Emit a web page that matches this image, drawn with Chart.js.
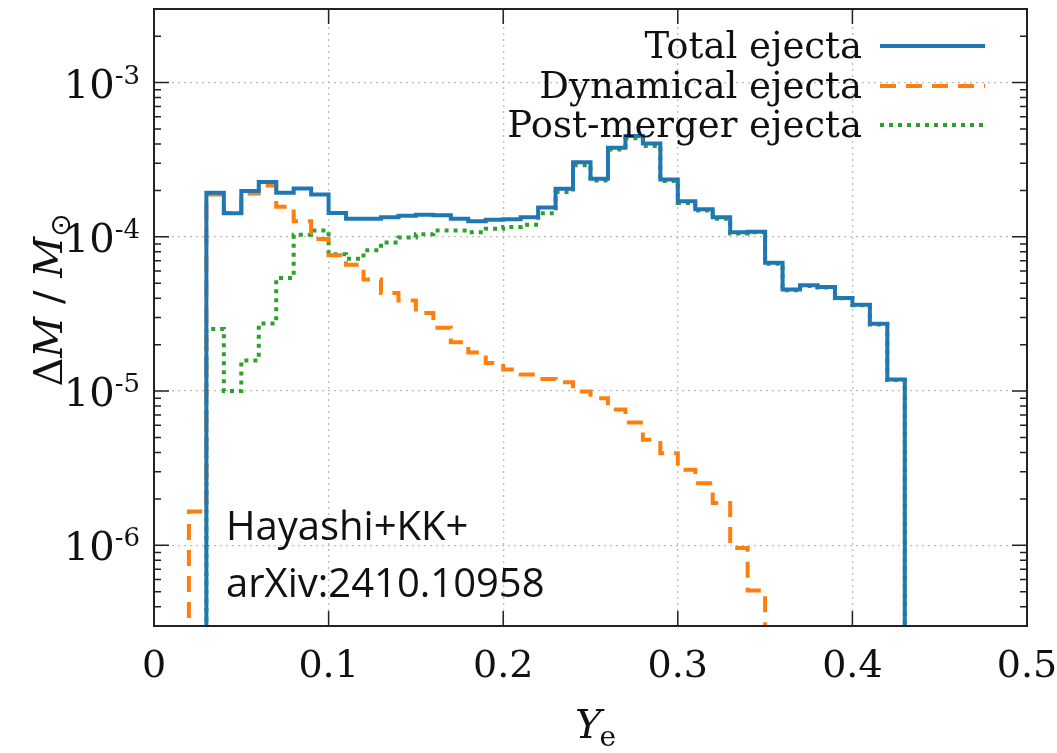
<!DOCTYPE html>
<html>
<head>
<meta charset="utf-8">
<script src="https://cdn.jsdelivr.net/npm/chart.js@4.4.0/dist/chart.umd.min.js"></script>
<style>
  html, body { margin: 0; padding: 0; background: #fff; }
  #wrap { position: relative; width: 1057px; height: 753px; }
</style>
</head>
<body>
<div id="wrap"><canvas id="chart" width="1057" height="753"></canvas></div>
<script>
// ---- data (bin width 0.01 in Ye, values in solar masses) ----
const BIN = 0.01;
const FLOOR = 1e-9; // empty bin, falls below the axis

const totalStart = 0.03;
const totalValues = [
  1.93e-4, 1.42e-4, 1.98e-4, 2.27e-4, 1.93e-4, 2.06e-4, 1.88e-4, 1.43e-4,
  1.31e-4, 1.31e-4, 1.34e-4, 1.37e-4, 1.39e-4, 1.38e-4, 1.31e-4, 1.26e-4,
  1.29e-4, 1.30e-4, 1.34e-4, 1.55e-4, 2.05e-4, 3.05e-4, 2.38e-4, 3.78e-4,
  4.50e-4, 4.03e-4, 2.35e-4, 1.70e-4, 1.51e-4, 1.34e-4, 1.07e-4, 1.08e-4,
  6.8e-5, 4.55e-5, 4.85e-5, 4.73e-5, 4.02e-5, 3.63e-5, 2.73e-5, 1.19e-5
];

const dynStart = 0.02;
const dynValues = [
  1.66e-6, 1.88e-4, 1.43e-4, 1.91e-4, 2.15e-4, 1.57e-4, 1.26e-4, 9.7e-5,
  7.6e-5, 6.6e-5, 5.3e-5, 4.33e-5, 3.86e-5, 3.21e-5, 2.57e-5, 2.07e-5,
  1.78e-5, 1.52e-5, 1.38e-5, 1.28e-5, 1.20e-5, 1.14e-5, 9.95e-6, 9.0e-6,
  7.6e-6, 6.26e-6, 4.83e-6, 3.96e-6, 3.09e-6, 2.53e-6, 1.88e-6, 9.6e-7,
  5.1e-7
];

const postStart = 0.03;
const postValues = [
  2.53e-5, 1.0e-5, 1.58e-5, 2.74e-5, 5.4e-5, 1.03e-4, 1.10e-4, 7.7e-5,
  7.2e-5, 8.2e-5, 9.2e-5, 9.9e-5, 1.04e-4, 1.10e-4, 1.10e-4, 1.07e-4,
  1.13e-4, 1.16e-4, 1.20e-4, 1.42e-4, 1.95e-4, 2.91e-4, 2.32e-4, 3.69e-4,
  4.35e-4, 3.88e-4, 2.30e-4, 1.66e-4, 1.48e-4, 1.31e-4, 1.05e-4, 1.07e-4,
  6.7e-5, 4.5e-5, 4.8e-5, 4.7e-5, 4.0e-5, 3.6e-5, 2.7e-5, 1.18e-5
];

const seriesLabels = ['Total ejecta', 'Dynamical ejecta', 'Post-merger ejecta'];
const seriesColors = ['#1f77b4', '#ff7f0e', '#2ca02c'];
const seriesDash = [[], [16, 10], [4, 5]];

const xTicks = [0, 0.1, 0.2, 0.3, 0.4, 0.5];
const xTickLabels = ['0', '0.1', '0.2', '0.3', '0.4', '0.5'];
const yDecades = [1e-6, 1e-5, 1e-4, 1e-3];
const yTickExp = ['-6', '-5', '-4', '-3'];
const Y_MIN = 3e-7, Y_MAX = 3e-3;
const noteLines = ['Hayashi+KK+', 'arXiv:2410.10958'];

const SERIF = '"DejaVu Serif", "Liberation Serif", serif';

function steps(start, values) {
  const pts = [{ x: start, y: FLOOR }];
  values.forEach((v, i) => pts.push({ x: +(start + i * BIN).toFixed(2), y: v }));
  pts.push({ x: +(start + values.length * BIN).toFixed(2), y: FLOOR });
  return pts;
}

function isDecade(v) {
  const l = Math.log10(v);
  return Math.abs(l - Math.round(l)) < 1e-6;
}

// inward tick marks, frame and 10^n labels, gnuplot style
const framePlugin = {
  id: 'frame',
  afterDraw(chart) {
    const { ctx, chartArea: a, scales } = chart;
    ctx.save();
    ctx.strokeStyle = '#222';
    ctx.lineWidth = 1.5;
    scales.y.ticks.forEach(t => {
      const py = scales.y.getPixelForValue(t.value);
      const len = isDecade(t.value) ? 15 : 7;
      ctx.beginPath();
      ctx.moveTo(a.left, py); ctx.lineTo(a.left + len, py);
      ctx.moveTo(a.right, py); ctx.lineTo(a.right - len, py);
      ctx.stroke();
    });
    xTicks.forEach(v => {
      const px = scales.x.getPixelForValue(v);
      ctx.beginPath();
      ctx.moveTo(px, a.bottom); ctx.lineTo(px, a.bottom - 15);
      ctx.moveTo(px, a.top); ctx.lineTo(px, a.top + 15);
      ctx.stroke();
    });
    ctx.lineWidth = 2;
    ctx.strokeRect(a.left, a.top, a.right - a.left, a.bottom - a.top);

    // y labels: 10 with raised exponent
    ctx.fillStyle = '#111';
    ctx.textBaseline = 'alphabetic';
    yDecades.forEach((d, i) => {
      const py = scales.y.getPixelForValue(d);
      ctx.font = '26px ' + SERIF;
      const we = ctx.measureText(yTickExp[i]).width;
      const xr = a.left - 14;
      ctx.textAlign = 'right';
      ctx.fillText(yTickExp[i], xr, py + 1);
      ctx.font = '40px ' + SERIF;
      ctx.fillText('10', xr - we, py + 15);
    });
    ctx.restore();
  }
};

// legend: text right-aligned, sample line to the right
const legendPlugin = {
  id: 'sideLegend',
  afterDraw(chart) {
    const { ctx } = chart;
    const textRight = 862, lineX0 = 880, lineX1 = 985;
    const rows = [46, 86, 125];
    ctx.save();
    ctx.font = '37px ' + SERIF;
    ctx.fillStyle = '#111';
    ctx.textAlign = 'right';
    ctx.textBaseline = 'middle';
    seriesLabels.forEach((label, i) => {
      const y = rows[i];
      ctx.fillText(label, textRight, y + 2);
      ctx.beginPath();
      ctx.strokeStyle = seriesColors[i];
      ctx.lineWidth = 4;
      ctx.setLineDash(seriesDash[i]);
      ctx.moveTo(lineX0, y);
      ctx.lineTo(lineX1, y);
      ctx.stroke();
    });
    ctx.restore();
  }
};

// axis titles and the reference note
const textPlugin = {
  id: 'texts',
  afterDraw(chart) {
    const { ctx } = chart;
    ctx.save();
    ctx.fillStyle = '#111';
    ctx.textBaseline = 'alphabetic';

    // y title: ΔM / M⊙ (rotated)
    ctx.translate(62, 300);
    ctx.rotate(-Math.PI / 2);
    const parts = [
      { t: '\u0394', f: '40px ' + SERIF, dy: 0 },
      { t: 'M', f: 'italic 40px ' + SERIF, dy: 0 },
      { t: ' / ', f: '40px ' + SERIF, dy: 0 },
      { t: 'M', f: 'italic 40px ' + SERIF, dy: 0 },
      { t: '\u2299', f: '28px "DejaVu Sans", sans-serif', dy: 8 }
    ];
    let w = 0;
    parts.forEach(p => { ctx.font = p.f; w += ctx.measureText(p.t).width; });
    let x = -w / 2;
    parts.forEach(p => {
      ctx.font = p.f;
      ctx.fillText(p.t, x, p.dy);
      x += ctx.measureText(p.t).width;
    });
    ctx.setTransform(1, 0, 0, 1, 0, 0);

    // x title: Y_e
    ctx.font = 'italic 40px ' + SERIF;
    const wy = ctx.measureText('Y').width;
    ctx.fillText('Y', 575, 738);
    ctx.font = '28px ' + SERIF;
    ctx.fillText('e', 575 + wy - 2, 746);

    // note
    ctx.font = '40px "Open Sans", "Noto Sans", sans-serif';
    ctx.fillText(noteLines[0], 226, 540);
    ctx.fillText(noteLines[1], 226, 597);
    ctx.restore();
  }
};

function makeDataset(i, pts) {
  return {
    label: seriesLabels[i],
    data: pts,
    borderColor: seriesColors[i],
    borderWidth: 4,
    borderDash: seriesDash[i],
    stepped: true,
    pointRadius: 0,
    fill: false,
    tension: 0
  };
}

function noEdgePadding(s) {
  s.paddingTop = 0; s.paddingBottom = 0;
  s.paddingLeft = 0; s.paddingRight = 0;
}

new Chart(document.getElementById('chart').getContext('2d'), {
  type: 'line',
  data: {
    datasets: [
      makeDataset(0, steps(totalStart, totalValues)),
      makeDataset(1, steps(dynStart, dynValues)),
      makeDataset(2, steps(postStart, postValues))
    ]
  },
  options: {
    responsive: false,
    animation: false,
    devicePixelRatio: 1,
    layout: { padding: { top: 9, right: 30, left: 0, bottom: 0 } },
    plugins: {
      legend: { display: false },
      tooltip: { enabled: false }
    },
    scales: {
      x: {
        type: 'linear',
        min: 0,
        max: 0.5,
        afterBuildTicks: s => { s.ticks = xTicks.map(v => ({ value: v })); },
        afterFit: s => { s.height = 127; noEdgePadding(s); },
        grid: { color: '#bdbdbd', lineWidth: 1.3, drawTicks: false },
        border: { display: false, dash: [2, 4] },
        ticks: {
          autoSkip: false,
          maxRotation: 0,
          padding: 18,
          color: '#111',
          font: { family: SERIF, size: 38 },
          callback: v => {
            const i = xTicks.findIndex(t => Math.abs(t - v) < 1e-9);
            return i >= 0 ? xTickLabels[i] : '';
          }
        }
      },
      y: {
        type: 'logarithmic',
        min: Y_MIN,
        max: Y_MAX,
        afterBuildTicks: s => {
          const ticks = [];
          for (let e = -7; e <= -3; e++) {
            for (let m = 1; m <= 9; m++) {
              const v = m * Math.pow(10, e);
              if (v >= Y_MIN * 0.999 && v <= Y_MAX * 1.001) ticks.push({ value: v });
            }
          }
          s.ticks = ticks;
        },
        afterFit: s => { s.width = 154; noEdgePadding(s); },
        grid: {
          color: c => (c.tick && isDecade(c.tick.value) ? '#bdbdbd' : 'rgba(0,0,0,0)'),
          lineWidth: 1.3,
          drawTicks: false
        },
        border: { display: false, dash: [2, 4] },
        ticks: {
          display: false,
          autoSkip: false
        }
      }
    }
  },
  plugins: [framePlugin, legendPlugin, textPlugin]
});
</script>
</body>
</html>
